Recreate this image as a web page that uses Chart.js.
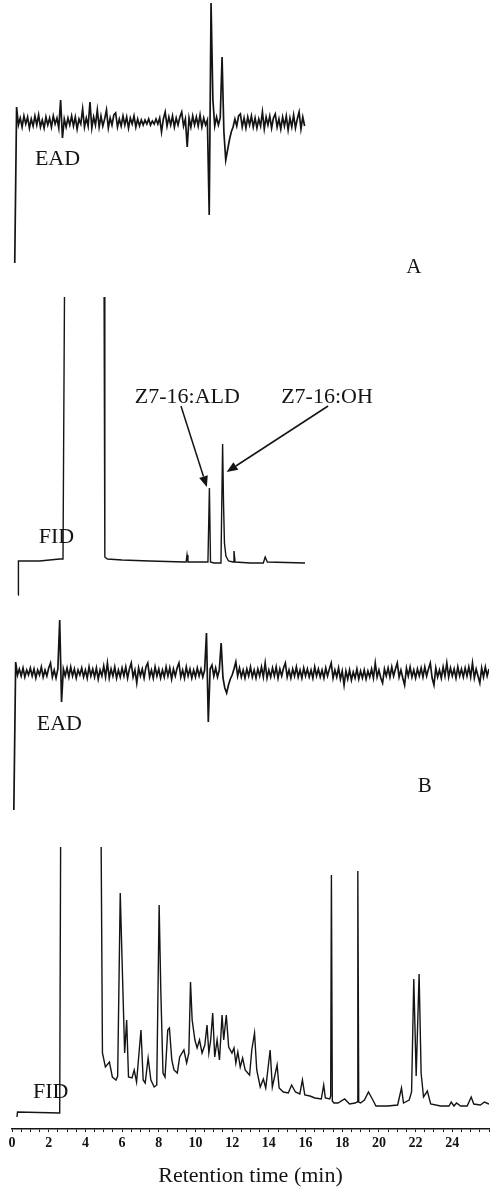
<!DOCTYPE html>
<html>
<head>
<meta charset="utf-8">
<title>EAD / FID responses - retention time</title>
<script src="https://cdn.jsdelivr.net/npm/chart.js@4.4.1/dist/chart.umd.min.js"></script>
<style>
  html, body { margin: 0; padding: 0; background: #fff; }
  #wrap { position: relative; width: 492px; height: 1192px; }
</style>
</head>
<body>
<div id="wrap"><canvas id="chart"></canvas></div>
<script>
// Tick labels on the retention time axis (min)
const tickLabels = [0, 2, 4, 6, 8, 10, 12, 14, 16, 18, 20, 22, 24];

// EAD traces, sampled every EAD_STEP min from their start time
// (response relative to the baseline, arbitrary units)
const EAD_STEP = 0.1;
const eadAStart = 0.15;
const eadAValues = [
  -141, 15, -3, 4, -5, 6, -2, 5, -6, 3,
  -4, 6, -3, 7, -5, 2, -6, 5, -3, 4,
  -5, 6, -2, 4, -6, 22, -16, 3, -5, 4,
  -3, 6, -4, 5, -7, 3, -2, 13, -5, 4,
  -4, 20, -6, 5, -3, 12, -5, 6, -4, 3,
  12, -6, 4, -3, 7, 9, -5, 3, -4, 6,
  -3, 5, -6, 4, -2, 6, -5, 3, -4, 2,
  -3, 2, -2, 3, -3, 1, -2, 3, -2, 4,
  -10, 3, 10, -4, 5, -3, 6, -5, 4, -3,
  5, 10, -4, 3, -25, 4, -5, 6, -3, 5,
  -4, 7, -5, 4, -3, 2, -93, 119, 22, -4,
  5, -3, 4, 65, -10, -38, -28, -18, -10, -5,
  3, -4, 6, 8, -5, 4, -6, 5, -3, 6,
  -5, 4, -6, 3, -4, 10, -7, 5, -3, 6,
  -6, 4, 8, -5, 3, -7, 5, -4, 6, -8,
  4, -5, 7, -6, 3, 10, -7, 5, -4
];
const eadBStart = 0.1;
const eadBValues = [
  -137, 11, -2, 4, -3, 5, -4, 3, -2, 5,
  -3, 4, -5, 3, -2, 6, -4, 3, -3, 5,
  10, -4, 3, -5, 4, 53, -29, 4, -3, 5,
  -4, 6, -3, 4, -5, 3, -2, 5, -4, 3,
  -5, 6, -3, 4, -4, 5, -6, 3, -3, 7,
  -4, 10, -5, 4, -3, 6, -5, 3, -4, 5,
  -3, 6, -5, 4, 10, -4, 3, -10, 5, -3,
  4, -5, 6, 10, -4, 3, -5, 6, -3, 4,
  -5, 3, -4, 6, -3, 5, -6, 4, -3, 5,
  10, -4, 3, -5, 6, -3, 4, -5, 3, -4,
  5, -3, 4, -4, 3, 40, -49, 4, 8, -3,
  5, -4, 3, 30, -5, -15, -20, -12, -6, -2,
  4, 11, -3, 5, -4, 3, -5, 4, -3, 6,
  -4, 3, -5, 4, -3, 6, -4, 10, -5, 3,
  -4, 5, -3, 6, -5, 4, -3, 5, 10, -4,
  3, -5, 4, -3, 6, -4, 3, -5, 5, -3,
  4, -4, 3, -5, 6, -3, 4, -4, 3, -5,
  5, -3, 4, 10, -5, 3, -4, 5, -6, 2,
  -12, 2, -6, 3, -7, 1, -5, 4, -6, 2,
  -5, 3, -6, 2, -4, 4, -5, 10, -4, 3,
  -5, -10, 4, -3, 5, -4, 6, -3, 4, 10,
  -4, 3, -5, -12, 5, -3, 6, -4, 3, -5,
  4, -3, 5, -4, 6, -3, 4, 10, -5, -12,
  5, -4, 3, -5, 6, -3, 10, -4, 5, -3,
  4, -5, 6, -3, 4, -4, 5, -3, 6, -4,
  10, -5, 4, -3, -10, 5, -4, 6, -3, 4
];

// FID traces (null = pen off scale)
const fidATime = [0.33, 0.35, 1.5, 2.6, 2.78, 2.86, 3.9, 5.02, 5.06, 5.2,
  6.0, 7.5, 9.4, 9.49, 9.54, 9.59, 10.68, 10.76, 10.82, 11.0,
  11.39, 11.48, 11.53, 11.58, 11.66, 11.8, 12.05, 12.1, 12.16, 13.0,
  13.7, 13.8, 13.92, 15.97];
const fidAValues = [-32, 2, 2, 4, 4, 266, null, 266, 6, 4,
  3, 2, 1, 1, 8, 1, 1, 75, 1, 0,
  0, 119, 60, 20, 7, 2, 1, 12, 1, 0,
  0, 6, 1, 0];

const fidBTime = [0.27, 0.30, 2.60, 2.65, 3.8, 4.86, 4.93, 5.09, 5.31, 5.47,
  5.67, 5.76, 5.90, 6.03, 6.14, 6.25, 6.35, 6.54, 6.66, 6.79,
  7.03, 7.15, 7.26, 7.42, 7.57, 7.75, 7.89, 8.02, 8.11, 8.23,
  8.34, 8.49, 8.58, 8.71, 8.83, 9.01, 9.14, 9.37, 9.52, 9.64,
  9.73, 9.82, 9.97, 10.09, 10.22, 10.36, 10.51, 10.63, 10.73, 10.83,
  10.94, 11.05, 11.18, 11.31, 11.45, 11.54, 11.68, 11.81, 11.99, 12.10,
  12.20, 12.31, 12.44, 12.57, 12.71, 12.85, 12.95, 13.07, 13.22, 13.34,
  13.53, 13.70, 13.83, 14.07, 14.19, 14.45, 14.56, 14.79, 15.06, 15.24,
  15.45, 15.69, 15.83, 15.96, 16.24, 16.51, 16.86, 16.99, 17.08, 17.32,
  17.37, 17.41, 17.46, 17.55, 17.77, 18.13, 18.40, 18.71, 18.81, 18.85,
  18.90, 19.00, 19.21, 19.43, 19.61, 19.84, 20.48, 21.02, 21.23, 21.34,
  21.65, 21.78, 21.90, 22.03, 22.19, 22.30, 22.43, 22.64, 22.82, 23.36,
  23.82, 23.94, 24.09, 24.23, 24.45, 24.81, 25.03, 25.17, 25.53, 25.75,
  26.0];
const fidBValues = [-11, -6, -7, 259, null, 259, 53, 39, 44, 29,
  26, 30, 213, 126, 53, 86, 29, 28, 36, 24,
  76, 26, 23, 48, 26, 19, 21, 201, 116, 33,
  29, 76, 78, 46, 36, 33, 49, 56, 43, 53,
  124, 86, 66, 58, 66, 53, 61, 81, 53, 66,
  93, 49, 66, 46, 91, 66, 91, 59, 53, 58,
  43, 54, 39, 48, 36, 33, 31, 56, 73, 36,
  19, 27, 18, 56, 19, 41, 18, 14, 13, 21,
  14, 12, 26, 11, 10, 8, 7, 21, 8, 7,
  10, 231, 5, 3, 3, 7, 2, 3, 4, 235,
  4, 3, 6, 14, 8, 0, 0, 1, 18, 3,
  6, 14, 127, 30, 132, 33, 9, 15, 2, 0,
  0, 4, 0, 3, 0, 0, 9, 2, 1, 4,
  2];

const INK = '#141414';
const SERIF = '"Liberation Serif", "Times New Roman", serif';
const PLOT_H = 1129;   // height of the plot area above the time axis

// each trace gets its own hidden y axis; baseline = pixel row of its zero
function traceAxis(baseline) {
  return { display: false, position: 'left', min: baseline - PLOT_H, max: baseline };
}

function sampled(start, values) {
  return values.map((v, i) => ({ x: +(start + i * EAD_STEP).toFixed(2), y: v }));
}
function paired(times, values) {
  return times.map((t, i) => ({ x: t, y: values[i] }));
}

function trace(data, axis, width) {
  return {
    data: data,
    yAxisID: axis,
    borderColor: INK,
    borderWidth: width,
    pointRadius: 0,
    tension: 0,
    spanGaps: false
  };
}

// text labels and arrows, placed in data coordinates
const labelPlugin = {
  id: 'traceLabels',
  afterDatasetsDraw(chart) {
    const { ctx, scales } = chart;
    const px = t => scales.x.getPixelForValue(t);
    const py = (axis, v) => scales[axis].getPixelForValue(v);

    const texts = [
      { text: 'EAD', t: 1.25, axis: 'yEadA', v: -43, align: 'left', size: 22 },
      { text: 'FID', t: 1.46, axis: 'yFidA', v: 20, align: 'left', size: 22 },
      { text: 'Z7-16:ALD', t: 9.56, axis: 'yFidA', v: 160, align: 'center', size: 22 },
      { text: 'Z7-16:OH', t: 17.17, axis: 'yFidA', v: 160, align: 'center', size: 22 },
      { text: 'A', t: 21.9, axis: 'yEadA', v: -151, align: 'center', size: 21 },
      { text: 'EAD', t: 1.35, axis: 'yEadB', v: -57, align: 'left', size: 22 },
      { text: 'B', t: 22.5, axis: 'yEadB', v: -119, align: 'center', size: 21 },
      { text: 'FID', t: 1.14, axis: 'yFidB', v: 8, align: 'left', size: 22 }
    ];
    const arrows = [
      { t0: 9.21, v0: 157, t1: 10.62, v1: 76 },
      { t0: 17.23, v0: 157, t1: 11.70, v1: 91 }
    ];

    ctx.save();
    ctx.fillStyle = INK;
    ctx.strokeStyle = INK;
    ctx.textBaseline = 'alphabetic';
    texts.forEach(l => {
      ctx.font = l.size + 'px ' + SERIF;
      ctx.textAlign = l.align;
      ctx.fillText(l.text, px(l.t), py(l.axis, l.v));
    });

    ctx.lineWidth = 1.5;
    arrows.forEach(a => {
      const x0 = px(a.t0), y0 = py('yFidA', a.v0);
      const x1 = px(a.t1), y1 = py('yFidA', a.v1);
      const ang = Math.atan2(y1 - y0, x1 - x0);
      const len = 11, half = 4.5;
      const bx = x1 - len * Math.cos(ang), by = y1 - len * Math.sin(ang);
      ctx.beginPath();
      ctx.moveTo(x0, y0);
      ctx.lineTo(bx, by);
      ctx.stroke();
      ctx.beginPath();
      ctx.moveTo(x1, y1);
      ctx.lineTo(bx + half * Math.sin(ang), by - half * Math.cos(ang));
      ctx.lineTo(bx - half * Math.sin(ang), by + half * Math.cos(ang));
      ctx.closePath();
      ctx.fill();
    });
    ctx.restore();
  }
};

new Chart(document.getElementById('chart'), {
  type: 'line',
  data: {
    datasets: [
      trace(sampled(eadAStart, eadAValues), 'yEadA', 1.7),
      trace(paired(fidATime, fidAValues), 'yFidA', 1.4),
      trace(sampled(eadBStart, eadBValues), 'yEadB', 1.7),
      trace(paired(fidBTime, fidBValues), 'yFidB', 1.4)
    ]
  },
  options: {
    responsive: true,
    maintainAspectRatio: false,
    animation: false,
    layout: { padding: { left: 12, right: 0, top: 0, bottom: 0 } },
    plugins: {
      legend: { display: false },
      tooltip: { enabled: false }
    },
    scales: {
      x: {
        type: 'linear',
        position: 'bottom',
        min: 0,
        max: 26,
        afterFit(scale) { scale.height = 63; },
        border: { display: true, color: INK, width: 1.5 },
        grid: { drawOnChartArea: false, drawTicks: true, tickLength: 3, color: INK },
        ticks: {
          stepSize: 0.5,
          maxTicksLimit: 60,
          autoSkip: false,
          maxRotation: 0,
          padding: 3,
          color: INK,
          font: { family: SERIF, size: 14, weight: 'bold' },
          callback: v => tickLabels.includes(Math.round(v * 2) / 2) ? String(Math.round(v)) : ''
        },
        title: {
          display: true,
          text: 'Retention time (min)',
          color: INK,
          font: { family: SERIF, size: 22 },
          padding: { top: 0, bottom: 3 }
        }
      },
      yEadA: traceAxis(122),
      yFidA: traceAxis(563),
      yEadB: traceAxis(673),
      yFidB: traceAxis(1106)
    }
  },
  plugins: [labelPlugin]
});
</script>
</body>
</html>
